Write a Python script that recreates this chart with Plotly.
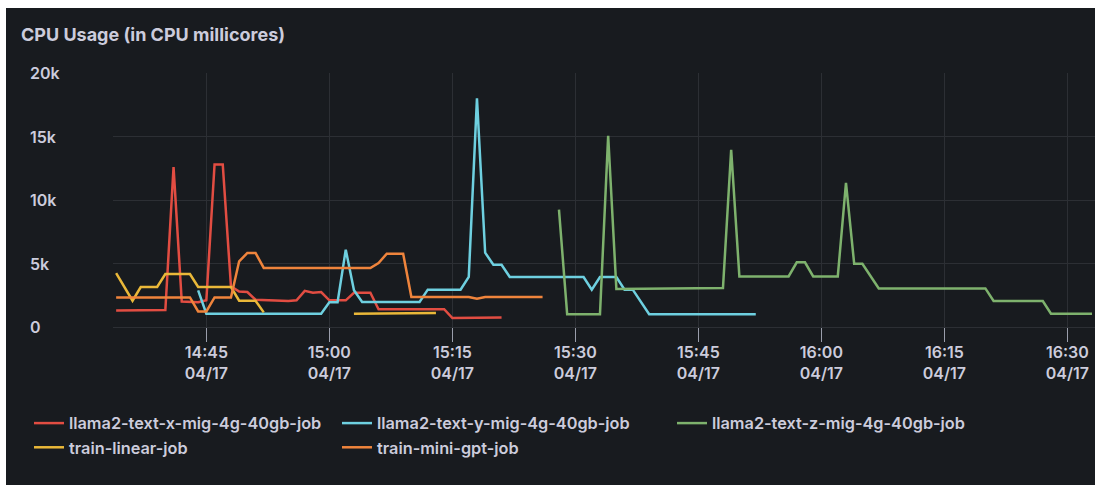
import pandas as pd
import plotly.graph_objects as go

DAY = "2024-04-17"

# CPU usage per job (millicores), sampled once per minute
x_mig_times = ["14:34", "14:40", "14:41", "14:42", "14:44", "14:45", "14:46", "14:47", "14:48",
               "14:49", "14:50", "14:51", "14:55", "14:56", "14:57", "14:58", "14:59", "15:00",
               "15:02", "15:03", "15:05", "15:06", "15:14", "15:15", "15:21"]
x_mig_cpu = [1300, 1330, 12600, 2000, 1950, 2100, 12800, 12800, 3200,
             2800, 2750, 2150, 2050, 2100, 2850, 2700, 2750, 2100,
             2100, 2700, 2700, 1400, 1400, 700, 750]

y_mig_times = ["14:44", "14:45", "14:59", "15:00", "15:01", "15:02", "15:03", "15:04", "15:11",
               "15:12", "15:16", "15:17", "15:18", "15:19", "15:20", "15:21", "15:22", "15:31",
               "15:32", "15:33", "15:35", "15:36", "15:37", "15:39", "15:52"]
y_mig_cpu = [2880, 1050, 1050, 1940, 1940, 6090, 2900, 1970, 1970,
             2940, 2940, 3940, 18000, 5850, 4900, 4900, 3940, 3940,
             2940, 3940, 3940, 2940, 2940, 1000, 1000]

z_mig_times = ["15:28", "15:29", "15:33", "15:34", "15:35", "15:48", "15:49", "15:50", "15:56",
               "15:57", "15:58", "15:59", "16:02", "16:03", "16:04", "16:05", "16:07", "16:20",
               "16:21", "16:27", "16:28", "16:33"]
z_mig_cpu = [9240, 1000, 1000, 15060, 3000, 3070, 13960, 3980, 3980,
             5090, 5090, 3980, 3980, 11340, 4980, 4980, 3040, 3040,
             2050, 2050, 1050, 1050]

linear_times = ["14:34", "14:36", "14:37", "14:39", "14:40", "14:43", "14:44", "14:48", "14:49",
                "14:51", "14:52", "14:53", "15:03", "15:13"]
linear_cpu = [4250, 2070, 3150, 3150, 4170, 4170, 3150, 3150, 2070,
              2070, 1150, None, 1050, 1100]

gpt_times = ["14:34", "14:43", "14:44", "14:45", "14:46", "14:48", "14:49", "14:50", "14:51",
             "14:52", "15:05", "15:06", "15:07", "15:09", "15:10", "15:17", "15:18", "15:19",
             "15:26"]
gpt_cpu = [2330, 2330, 1230, 1230, 2330, 2330, 5170, 5830, 5830,
           4650, 4650, 5040, 5770, 5770, 2360, 2360, 2220, 2360,
           2360]

x_tick_times = ["14:45", "15:00", "15:15", "15:30", "15:45", "16:00", "16:15", "16:30"]
x_tick_date = "04/17"
y_tick_vals = [0, 5000, 10000, 15000, 20000]
y_tick_text = ["0", "5k", "10k", "15k", "20k"]

BG = "#181b1f"
GRID = "#2c2f34"
TEXT = "#ccccdc"
FONT = "Inter"


def stamps(times):
    return pd.to_datetime([f"{DAY} {t}" for t in times])


series = [
    ("llama2-text-x-mig-4g-40gb-job", x_mig_times, x_mig_cpu, "#E24D42", "legend"),
    ("llama2-text-y-mig-4g-40gb-job", y_mig_times, y_mig_cpu, "#6ED0E0", "legend2"),
    ("llama2-text-z-mig-4g-40gb-job", z_mig_times, z_mig_cpu, "#7EB26D", "legend3"),
    ("train-linear-job", linear_times, linear_cpu, "#EAB839", "legend"),
    ("train-mini-gpt-job", gpt_times, gpt_cpu, "#EF843C", "legend2"),
]

fig = go.Figure()
for name, times, cpu, color, leg in series:
    fig.add_trace(go.Scatter(
        x=stamps(times), y=cpu, name=name, mode="lines",
        line=dict(color=color, width=2.5), legend=leg, connectgaps=False,
    ))

W, H = 1095, 485
ML, MR, MT, MB = 113, 0, 73, 158
PW, PH = W - ML - MR, H - MT - MB


def px_x(px):
    return (px - ML) / PW


def px_y(py):
    return (H - MB - py) / PH


legend_style = dict(
    orientation="v", xanchor="left", yanchor="top", y=px_y(406),
    bgcolor="rgba(0,0,0,0)", borderwidth=0, itemwidth=30,
    font=dict(family=FONT, size=16.3, color=TEXT, weight=600),
)

fig.update_layout(
    width=W, height=H,
    margin=dict(l=ML, r=MR, t=MT, b=MB),
    paper_bgcolor="#ffffff",
    plot_bgcolor=BG,
    font=dict(family=FONT, color=TEXT),
    title=dict(
        text="CPU Usage (in CPU millicores)",
        font=dict(family=FONT, size=18, color=TEXT, weight=700),
        xref="container", yref="container", x=21 / W, y=1 - 34.5 / H,
        xanchor="left", yanchor="middle",
    ),
    xaxis=dict(
        type="date",
        range=[f"{DAY} 14:33:37", f"{DAY} 16:33:22"],
        tickmode="array",
        tickvals=stamps(x_tick_times),
        ticktext=[f"{t}<br>{x_tick_date}" for t in x_tick_times],
        ticks="outside", ticklen=14, tickwidth=1, tickcolor="#9a9eab",
        ticklabelstandoff=-3,
        tickfont=dict(family=FONT, size=16, color=TEXT, weight=600),
        showgrid=True, gridcolor=GRID, gridwidth=1,
        zeroline=False, showline=False,
    ),
    yaxis=dict(
        range=[0, 20000],
        tickmode="array", tickvals=y_tick_vals,
        showticklabels=False,
        showgrid=True, gridcolor=GRID, gridwidth=1,
        zeroline=True, zerolinecolor=GRID, zerolinewidth=1,
        showline=False,
    ),
    legend=dict(legend_style, x=px_x(29)),
    legend2=dict(legend_style, x=px_x(337)),
    legend3=dict(legend_style, x=px_x(672)),
    showlegend=True,
)

# dark panel behind the whole chart
fig.add_shape(
    type="rect", xref="paper", yref="paper",
    x0=px_x(6), x1=px_x(W + 5), y0=px_y(H + 5), y1=px_y(8),
    fillcolor=BG, line=dict(width=0), layer="below",
)

# left-aligned value labels for the y axis
for v, t in zip(y_tick_vals, y_tick_text):
    fig.add_annotation(
        x=px_x(28), xref="paper", y=v, yref="y", text=t, showarrow=False,
        xanchor="left", yanchor="middle",
        font=dict(family=FONT, size=16, color=TEXT, weight=600),
    )

fig.write_html("out.html")
